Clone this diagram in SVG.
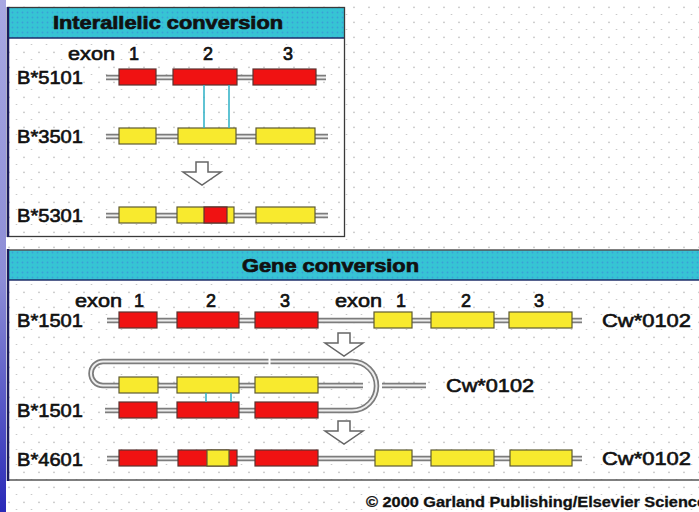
<svg xmlns="http://www.w3.org/2000/svg" width="699" height="512" viewBox="0 0 699 512">
<defs>
<pattern id="dots" width="15" height="15" patternUnits="userSpaceOnUse">
<rect width="15" height="15" fill="#ffffff"/>
<circle cx="9" cy="7.3" r="0.9" fill="#c4c4c4"/>
<circle cx="1.5" cy="14.8" r="0.9" fill="#c4c4c4"/>
</pattern>
<pattern id="cdots" width="5" height="5" patternUnits="userSpaceOnUse">
<rect width="5" height="5" fill="#36c4d4"/>
<circle cx="2.5" cy="2.5" r="0.9" fill="#3aa0d8"/>
</pattern>
<linearGradient id="strip" x1="0" y1="0" x2="0" y2="1">
<stop offset="0" stop-color="#a8a8e2"/>
<stop offset="0.55" stop-color="#8c8cd6"/>
<stop offset="1" stop-color="#2a2ab8"/>
</linearGradient>
<symbol id="arrow" viewBox="-20 0 40 24" overflow="visible">
<path d="M-6 0 H6 V10 H19 L0 23 L-19 10 H-6 Z" fill="#ffffff" stroke="#666" stroke-width="1.5" stroke-linejoin="miter"/>
</symbol>
</defs>
<style>
text{font-family:"Liberation Sans",Arial,Helvetica,sans-serif;fill:#111;}
.lbl{font-size:18px;stroke:#111;stroke-width:0.6;}
.num{font-size:18px;stroke:#111;stroke-width:0.7;text-anchor:middle;}
.ttl{font-size:19px;font-weight:bold;stroke:#111;stroke-width:0.7;}
.cpy{font-size:14px;font-weight:bold;stroke:#111;stroke-width:0.3;}
.r{fill:#f01212;stroke:#5a3330;stroke-width:1.2;}
.y{fill:#f8ea2e;stroke:#5e5a32;stroke-width:1.2;}
.dna{fill:none;stroke:#7c7c7c;stroke-width:5.5;}
.dnai{fill:none;stroke:#eeeeee;stroke-width:2;}
.link{stroke:#38b4c8;stroke-width:1.6;fill:none;}
.frame{fill:none;stroke:#3a3a3a;stroke-width:1.3;}
.edge{stroke:#1c1c5c;stroke-width:2.5;}
.hdr{fill:url(#cdots);}
</style>

<rect width="699" height="512" fill="url(#dots)"/>
<rect x="0" y="0" width="6" height="512" fill="url(#strip)"/>

<!-- Top panel -->
<g id="panel-interallelic">
<rect class="hdr" x="8" y="8" width="336" height="30"/>
<line x1="8" y1="38" x2="344" y2="38" stroke="#1e2e6a" stroke-width="1.5"/>
<rect class="frame" x="7.5" y="7.5" width="337" height="229"/>
<line class="edge" x1="8" y1="7" x2="8" y2="237"/>
<text class="ttl" x="53" y="29" textLength="230" lengthAdjust="spacingAndGlyphs">Interallelic conversion</text>
</g>

<g id="exon-header-top">
<text class="lbl" x="68" y="60" textLength="47" lengthAdjust="spacingAndGlyphs">exon</text>
<text class="num" x="134" y="60">1</text>
<text class="num" x="208" y="60">2</text>
<text class="num" x="288" y="60">3</text>
</g>

<g id="B5101">
<text class="lbl" x="17" y="84" textLength="66" lengthAdjust="spacingAndGlyphs">B*5101</text>
<path class="dna" d="M106 77.5 H326"/><path class="dnai" d="M106 77.5 H326"/>
<rect class="r" x="119" y="69" width="37" height="16"/>
<rect class="r" x="173" y="69" width="64" height="16"/>
<rect class="r" x="253" y="69" width="63" height="16"/>
</g>

<g id="B3501">
<text class="lbl" x="17" y="143" textLength="66" lengthAdjust="spacingAndGlyphs">B*3501</text>
<path class="dna" d="M106 136.5 H328"/><path class="dnai" d="M106 136.5 H328"/>
<rect class="y" x="119" y="128" width="37" height="16"/>
<rect class="y" x="178" y="128" width="58" height="16"/>
<rect class="y" x="256" y="128" width="59" height="16"/>
</g>

<g id="arrow-top">
<use href="#arrow" x="182" y="162" width="40" height="24"/>
</g>

<g id="B5301">
<text class="lbl" x="17" y="222" textLength="66" lengthAdjust="spacingAndGlyphs">B*5301</text>
<path class="dna" d="M106 215.5 H328"/><path class="dnai" d="M106 215.5 H328"/>
<rect class="y" x="119" y="207" width="37" height="16"/>
<rect class="y" x="177" y="207" width="57" height="16"/>
<rect class="r" x="204" y="207" width="23" height="16"/>
<rect class="y" x="256" y="207" width="59" height="16"/>
</g>

<!-- Bottom panel -->
<g id="panel-gene">
<rect class="hdr" x="8" y="250" width="691" height="30"/>
<line x1="8" y1="250" x2="699" y2="250" stroke="#555" stroke-width="1.3"/>
<line x1="8" y1="280" x2="699" y2="280" stroke="#1e2e6a" stroke-width="1.5"/>
<line x1="8" y1="480" x2="699" y2="480" stroke="#555" stroke-width="1.3"/>
<line class="edge" x1="8" y1="249" x2="8" y2="481"/>
<text class="ttl" x="242" y="272" textLength="177" lengthAdjust="spacingAndGlyphs">Gene conversion</text>
</g>

<g id="exon-header-bottom">
<text class="lbl" x="75" y="307" textLength="47" lengthAdjust="spacingAndGlyphs">exon</text>
<text class="num" x="139" y="307">1</text>
<text class="num" x="211" y="307">2</text>
<text class="num" x="285" y="307">3</text>
<text class="lbl" x="335" y="307" textLength="47" lengthAdjust="spacingAndGlyphs">exon</text>
<text class="num" x="401" y="307">1</text>
<text class="num" x="466" y="307">2</text>
<text class="num" x="539" y="307">3</text>
</g>

<g id="B1501-Cw0102">
<text class="lbl" x="17" y="327" textLength="66" lengthAdjust="spacingAndGlyphs">B*1501</text>
<text class="lbl" x="602" y="327" textLength="89" lengthAdjust="spacingAndGlyphs">Cw*0102</text>
<path class="dna" d="M107 320.5 H582"/><path class="dnai" d="M107 320.5 H582"/>
<rect class="r" x="119" y="312" width="38" height="16"/>
<rect class="r" x="177" y="312" width="62" height="16"/>
<rect class="r" x="255" y="312" width="63" height="16"/>
<rect class="y" x="374" y="312" width="38" height="16"/>
<rect class="y" x="431" y="312" width="63" height="16"/>
<rect class="y" x="509" y="312" width="63" height="16"/>
</g>

<g id="arrow-mid1">
<use href="#arrow" x="324" y="333" width="40" height="24"/>
</g>

<g id="hairpin">
<path class="dna" d="M105 410.5 H352 A24.5 24.5 0 0 0 352 361.5 H103 A12 12 0 0 0 103 385.5 H363"/>
<path class="dnai" d="M105 410.5 H352 A24.5 24.5 0 0 0 352 361.5 H103 A12 12 0 0 0 103 385.5 H363"/>
<rect x="268.5" y="357" width="2" height="9" fill="#ffffff"/>
<path class="dna" d="M382 385.5 H426"/><path class="dnai" d="M382 385.5 H426"/>
<text class="lbl" x="446" y="392" textLength="88" lengthAdjust="spacingAndGlyphs">Cw*0102</text>
<rect class="y" x="119" y="377" width="39" height="16"/>
<rect class="y" x="177" y="377" width="62" height="16"/>
<rect class="y" x="255" y="377" width="63" height="16"/>
<text class="lbl" x="17" y="417" textLength="66" lengthAdjust="spacingAndGlyphs">B*1501</text>
<rect class="r" x="119" y="402" width="38" height="16"/>
<rect class="r" x="177" y="402" width="62" height="16"/>
<rect class="r" x="255" y="402" width="63" height="16"/>
</g>

<g id="arrow-mid2">
<use href="#arrow" x="324" y="421" width="40" height="24"/>
</g>

<g id="B4601-Cw0102">
<text class="lbl" x="17" y="466" textLength="66" lengthAdjust="spacingAndGlyphs">B*4601</text>
<text class="lbl" x="602" y="465" textLength="89" lengthAdjust="spacingAndGlyphs">Cw*0102</text>
<path class="dna" d="M107 458.5 H582"/><path class="dnai" d="M107 458.5 H582"/>
<rect class="r" x="119" y="450" width="38" height="16"/>
<rect class="r" x="178" y="450" width="59" height="16"/>
<rect class="y" x="207" y="450" width="22" height="16"/>
<rect class="r" x="255" y="450" width="63" height="16"/>
<rect class="y" x="375" y="450" width="37" height="16"/>
<rect class="y" x="431" y="450" width="63" height="16"/>
<rect class="y" x="510" y="450" width="62" height="16"/>
</g>

<g id="connectors">
<line class="link" x1="204" y1="85" x2="204" y2="128"/>
<line class="link" x1="229" y1="85" x2="229" y2="128"/>
<line class="link" x1="206" y1="393" x2="206" y2="402" stroke="#3a8ec4"/>
<line class="link" x1="231" y1="393" x2="231" y2="402" stroke="#3a8ec4"/>
</g>

<text class="cpy" x="366" y="507" textLength="340" lengthAdjust="spacingAndGlyphs">© 2000 Garland Publishing/Elsevier Science</text>
</svg>
